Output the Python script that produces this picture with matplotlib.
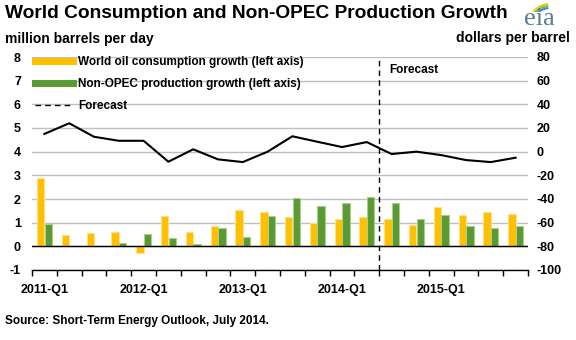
import matplotlib
matplotlib.use('Agg')
import matplotlib.pyplot as plt
import numpy as np
from matplotlib.patches import Arc
from matplotlib.lines import Line2D

plt.rcParams['font.family'] = ['Liberation Sans', 'DejaVu Sans']
plt.rcParams['font.weight'] = 'bold'
plt.rcParams['axes.unicode_minus'] = False

quarters = ['2011-Q1', '2011-Q2', '2011-Q3', '2011-Q4',
            '2012-Q1', '2012-Q2', '2012-Q3', '2012-Q4',
            '2013-Q1', '2013-Q2', '2013-Q3', '2013-Q4',
            '2014-Q1', '2014-Q2', '2014-Q3', '2014-Q4',
            '2015-Q1', '2015-Q2', '2015-Q3', '2015-Q4']
consumption = [2.87, 0.49, 0.58, 0.62, -0.27, 1.30, 0.62, 0.88, 1.53, 1.47,
               1.26, 1.00, 1.17, 1.26, 1.17, 0.92, 1.68, 1.34, 1.43, 1.38]
non_opec = [0.96, 0.0, 0.0, 0.13, 0.54, 0.34, 0.11, 0.79, 0.41, 1.30,
            2.03, 1.72, 1.81, 2.10, 1.85, 1.17, 1.34, 0.88, 0.79, 0.88]
# right axis series, dollars per barrel
price = [15, 24, 12.6, 9.2, 9.2, -8.5, 2.0, -6.5, -8.8, 0.0,
         13.0, 8.4, 3.9, 8.1, -2.0, 0.0, -2.9, -7.1, -8.8, -5.1]
forecast_start = 14
label_every = 4

yellow = '#FFC000'
green = '#5B9A32'

fig = plt.figure(figsize=(5.76, 3.40), dpi=100)
ax = fig.add_axes([32 / 576, 1 - 270 / 340, 496 / 576, 213 / 340])

x = np.arange(len(quarters)) + 0.5
w = 0.3
ax.bar(x - 0.15, consumption, w, color=yellow, edgecolor='#FFE08A', linewidth=0.8, zorder=3)
ax.bar(x + 0.16, non_opec, w, color=green, edgecolor='#A9CF8F', linewidth=0.8, zorder=3)
ax.axvline(forecast_start, color='black', linestyle=(0, (4, 3)), linewidth=1, zorder=4)
ax.axhline(0, color='black', linewidth=1, zorder=4)

ax.set_xlim(0, len(quarters))
ax.set_ylim(-1, 8)
ax.set_yticks(range(-1, 9))
ax.yaxis.grid(True, color='#BFBFBF', linewidth=1)
ax.set_axisbelow(True)
ax.set_xticks(x[::label_every])
ax.set_xticklabels(quarters[::label_every], fontsize=9)
ax.set_xticks(np.arange(0, len(quarters) + 1), minor=True)
ax.tick_params(axis='x', which='major', length=0, pad=10)
ax.tick_params(axis='x', which='minor', length=4, direction='out', width=1)
ax.tick_params(axis='y', length=0, labelsize=9, pad=8)
for s in ['top', 'left', 'right']:
    ax.spines[s].set_visible(False)
ax.spines['bottom'].set_linewidth(1)

ax2 = ax.twinx()
ax2.plot(x, price, color='black', linewidth=1.5, zorder=5)
ax2.set_ylim(-100, 80)
ax2.set_yticks(range(-100, 81, 20))
ax2.tick_params(axis='y', length=0, labelsize=9, pad=6)
for s in ['top', 'left', 'right', 'bottom']:
    ax2.spines[s].set_visible(False)

ax.text(forecast_start + 0.4, 7.45, 'Forecast', fontsize=8.5, va='center')

handles = [Line2D([], [], color=yellow, linewidth=5),
           Line2D([], [], color=green, linewidth=5),
           Line2D([], [], color='black', linewidth=1, linestyle=(0, (4, 3)))]
labels = ['World oil consumption growth (left axis)',
          'Non-OPEC production growth (left axis)', 'Forecast']
ax2.legend(handles, labels, loc='upper left', bbox_to_anchor=(-0.01, 1.045), frameon=False,
           fontsize=8.5, handlelength=3.2, handletextpad=0.4, labelspacing=0.86,
           borderaxespad=0.3)

fig.text(5 / 576, 1 - 14 / 340, 'World Consumption and Non-OPEC Production Growth',
         fontsize=13.8, fontweight='heavy', va='center')
fig.text(5 / 576, 1 - 39 / 340, 'million barrels per day', fontsize=10, va='center')
fig.text(570 / 576, 1 - 38 / 340, 'dollars per barrel', fontsize=10, va='center', ha='right')
fig.text(5 / 576, 1 - 321 / 340, 'Source: Short-Term Energy Outlook, July 2014.',
         fontsize=8.5, va='center')

# eia logo
fig.text(539 / 576, 1 - 25 / 340, 'eia', fontsize=19, family=['Liberation Serif'],
         fontweight='normal', color='#5F7A95', ha='center', va='baseline')
lax = fig.add_axes([524 / 576, 1 - 12 / 340, 30 / 576, 12 / 340])
lax.set_xlim(0, 30)
lax.set_ylim(0, 12)
lax.axis('off')
for c, r in [('#F5C400', 22), ('#7AB648', 20), ('#2E8FD0', 18)]:
    lax.add_patch(Arc((26, -14), 2 * r, 2 * r, theta1=95, theta2=140, color=c, linewidth=1.4))

fig.savefig('out.png', dpi=100)
